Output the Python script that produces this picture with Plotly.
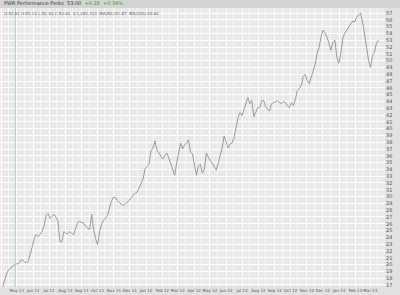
import pandas as pd
import plotly.graph_objects as go

# closing prices, sampled roughly every 3.75 days from early Apr 2011
close = [16.71, 17.74, 18.63, 19.23, 19.52, 19.67, 19.97, 20.11, 20.11, 20.56,
         20.71, 20.41, 20.26, 20.56, 21.45, 22.63, 23.82, 24.41, 24.11, 24.41,
         24.86, 25.74, 27.23, 27.52, 26.78, 27.08, 27.37, 26.93, 26.34, 23.37,
         23.37, 24.86, 24.56, 24.56, 24.86, 24.56, 24.41, 25.45, 26.19, 26.34,
         26.19, 26.04, 25.60, 25.30, 25.15, 27.37, 25.15, 23.82, 22.93, 24.86,
         25.89, 26.49, 26.78, 27.23, 28.26, 29.30, 29.89, 29.89, 29.45, 29.15,
         28.86, 28.71, 28.86, 29.15, 29.45, 29.74, 30.04, 30.49, 30.63, 31.23,
         31.82, 32.56, 34.04, 34.34, 34.78, 36.71, 37.15, 38.19, 36.86, 36.41,
         35.97, 35.52, 36.11, 36.41, 35.67, 34.93, 34.19, 33.15, 34.93, 36.71,
         37.89, 37.00, 37.60, 37.89, 38.34, 36.56, 36.26, 34.63, 33.15, 34.49,
         34.78, 33.45, 34.04, 36.41, 35.67, 35.23, 34.93, 34.49, 33.89, 34.93,
         35.97, 37.15, 38.93, 38.19, 37.15, 37.74, 37.89, 38.63, 39.97, 41.60,
         42.34, 41.89, 42.78, 43.67, 44.56, 43.67, 44.11, 41.74, 42.34, 43.08,
         43.08, 44.11, 44.11, 43.23, 42.78, 42.63, 43.67, 43.82, 43.97, 44.11,
         43.82, 43.67, 43.97, 43.82, 43.37, 43.08, 43.82, 43.37, 44.26, 45.60,
         45.89, 46.34, 47.67, 47.97, 47.08, 46.63, 47.52, 48.56, 49.45, 51.08,
         51.97, 53.45, 54.49, 54.04, 53.45, 52.56, 51.52, 52.71, 53.00, 50.49,
         49.60, 51.08, 53.30, 54.04, 54.49, 54.93, 55.52, 55.82, 55.67, 56.41,
         56.71, 57.00, 55.67, 54.04, 51.97, 50.04, 49.00, 50.78, 51.23, 52.56,
         53.00]
dates = pd.date_range("2011-04-04", periods=len(close), freq="90h")

month_starts = pd.date_range("2011-04-01", "2013-04-01", freq="MS")
month_labels = ["Apr", "May 11", "Jun 11", "Jul 11", "Aug 11", "Sep 11", "Oct 11",
                "Nov 11", "Dec 11", "Jan 12", "Feb 12", "Mar 12", "Apr 12",
                "May 12", "Jun 12", "Jul 12", "Aug 12", "Sep 12", "Oct 12",
                "Nov 12", "Dec 12", "Jan 13", "Feb 13", "Mar 13", "Apr"]
mid_months = pd.date_range("2011-04-01", "2013-04-01", freq="SMS")
y_ticks = list(range(17, 58))

title_name = "PWR Performance Perks"
title_last = "53.00"
title_chg = "+0.18  +0.34%"
sub_line = "O:52.61 H:53.12 L:52.44 C:53.00  V:1,284,310  MA(50):51.87  MA(200):44.62"

fig = go.Figure()
fig.add_trace(go.Scatter(x=dates, y=close, mode="lines",
                         line=dict(color="#9a9a9a", width=1), hoverinfo="skip"))

fig.add_vline(x="2011-04-28", line=dict(color="#a6d2c6", width=1))

fig.update_layout(
    width=400, height=295,
    margin=dict(l=0, r=15, t=8, b=8),
    paper_bgcolor="#e2e2e2", plot_bgcolor="#e9e9e9",
    showlegend=False,
    xaxis=dict(type="date", range=["2011-03-30", "2013-03-29"],
               tickmode="array", tickvals=month_starts, ticktext=month_labels,
               tickangle=0,
               showgrid=True, gridcolor="#ffffff", gridwidth=1,
               minor=dict(tickvals=mid_months, showgrid=True,
                          gridcolor="#f7f7f7", gridwidth=1),
               ticks="", tickfont=dict(family="DejaVu Sans", size=4, color="#555555"),
               ticklabelstandoff=0, zeroline=False, showline=False, fixedrange=True),
    yaxis=dict(side="right", range=[16.7, 57.74], tickmode="array",
               tickvals=y_ticks, ticktext=[str(v) for v in y_ticks],
               showgrid=True, gridcolor="#ffffff", gridwidth=1,
               ticks="", tickfont=dict(family="DejaVu Sans", size=5, color="#555555"),
               zeroline=False, showline=False, fixedrange=True),
)

fig.add_shape(type="rect", xref="paper", yref="paper", x0=0, x1=1.05, y0=1.0, y1=1.04,
              fillcolor="#d4d4d4", line=dict(width=0), layer="above")
fig.add_annotation(xref="paper", yref="paper", x=0.005, y=1.0, xanchor="left", yanchor="bottom",
                   text=title_name + "  " + title_last + "  <span style='color:#2aa52a'>" + title_chg + "</span>",
                   showarrow=False, font=dict(family="DejaVu Sans", size=5, color="#333333"))
fig.add_annotation(xref="paper", yref="paper", x=0.005, y=0.995, xanchor="left", yanchor="top",
                   text=sub_line, showarrow=False,
                   font=dict(family="DejaVu Sans", size=4, color="#555555"))

fig.write_html("out.html")
